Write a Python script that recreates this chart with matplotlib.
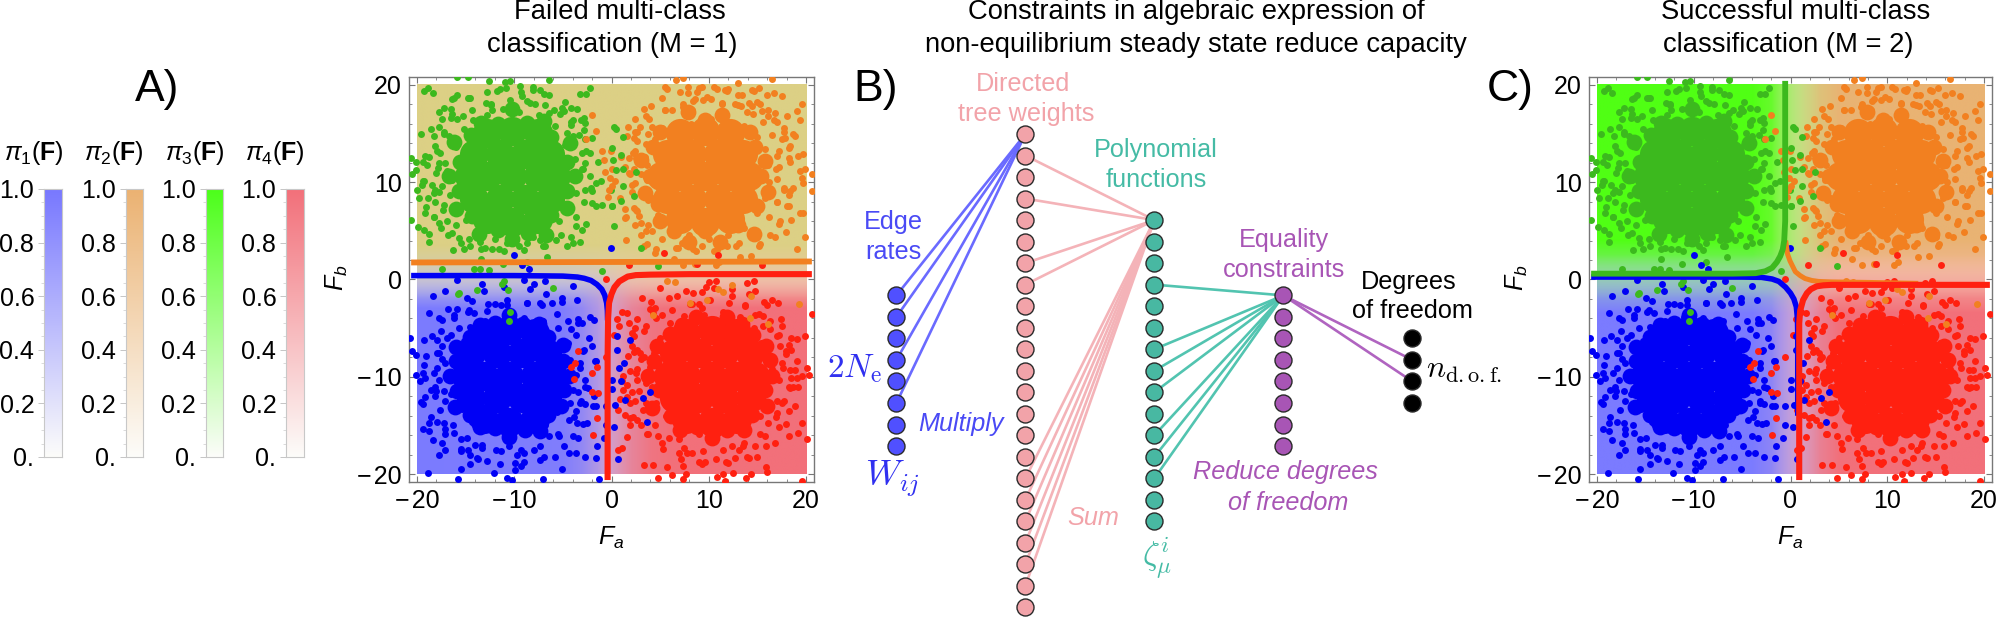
import numpy as np
import matplotlib
matplotlib.use("Agg")
import matplotlib.pyplot as plt
from matplotlib.ticker import MultipleLocator, FixedLocator

plt.rcParams['font.family'] = ['Liberation Sans', 'DejaVu Sans']
plt.rcParams['mathtext.fontset'] = 'custom'
plt.rcParams['mathtext.rm'] = 'Liberation Sans'
plt.rcParams['mathtext.it'] = 'Liberation Sans:italic'
plt.rcParams['mathtext.bf'] = 'Liberation Sans:bold'

# ---- scatter readings (Fa, Fb) ----
green_points = [(-12.6,20.4),(-14.8,20.8),(-15.9,20.8),(-10.9,20.3),(-10.4,20.4),(-6.4,20.5),(-19.3,19.4),(-18.9,19.7),(-18.4,19.2),(-16.2,18.6),(-15.9,19.0),(-16.4,18.5),(-14.8,18.6),(-14.5,18.6),(-11.5,19.6),(-11.8,19.4),(-9.4,19.9),(-9.3,19.3),(-7.4,19.5),(-6.9,19.1),(-8.1,19.8),(-2.2,19.7),(-3.2,19.1),(-2.6,19.1),(-12.9,18.1),(-12.4,17.9),(-12.3,17.4),(-9.2,18.8),(-8.7,18.3),(-7.9,18.0),(-17.2,17.6),(-17.7,17.2),(-17.4,16.5),(-16.4,17.0),(-16.5,16.6),(-15.3,16.8),(-5.9,17.4),(-6.4,17.1),(-5.1,17.6),(-4.9,17.3),(-4.2,17.6),(-3.5,17.5),(-2.8,16.6),(-2.7,16.1),(-4.0,16.4),(-4.2,15.9),(-2.8,15.4),(-18.6,15.5),(-17.7,15.7),(-19.6,14.9),(-17.2,14.9),(-16.7,14.7),(-16.2,14.4),(-4.6,15.0),(-4.0,14.7),(-2.7,14.4),(-18.1,13.7),(-17.9,13.2),(-19.2,12.7),(-20.1,12.1),(-19.4,12.1),(-19.0,11.8),(-20.6,12.5),(-17.7,12.0),(-17.8,11.5),(-17.1,12.0),(-20.1,11.2),(-20.5,10.8),(-16.9,11.1),(-19.3,10.1),(-19.5,9.7),(-20.0,9.2),(-18.1,9.2),(-18.5,9.7),(-17.4,9.6),(-18.3,8.9),(-18.1,8.0),(-19.8,8.4),(-19.1,7.4),(-19.2,6.8),(-18.3,6.4),(-17.2,7.7),(-17.7,5.8),(-16.9,6.0),(-20.6,6.1),(-19.9,5.4),(-19.3,5.1),(-18.8,4.7),(-18.8,3.9),(-17.5,5.3),(-16.4,4.8),(-15.7,4.3),(-15.5,3.8),(-16.3,3.0),(-14.5,3.4),(-13.5,3.9),(-13.4,3.1),(-12.3,3.1),(-11.6,3.1),(-10.7,3.8),(-9.5,3.4),(-8.7,3.8),(-7.3,4.1),(-6.8,3.4),(-5.7,4.1),(-4.2,4.4),(-4.0,3.8),(-3.2,3.9),(-3.0,5.1),(-3.7,5.5),(-2.0,7.9),(-1.0,7.7),(0.1,7.5),(-2.2,10.6),(-1.6,9.9),(-1.1,10.1),(-2.0,9.1),(-2.7,9.2),(-3.0,11.3),(-2.7,12.0),(-2.2,13.0),(-3.0,13.0),(-0.1,9.2),(-14.1,1.1),(-13.5,1.1),(-17.4,1.1),(-12.6,1.0),(-1.0,0.9),(-15.2,15.5),(-14.2,16.4),(-12.8,16.9),(-11.2,17.5),(-9.5,17.2),(-7.5,16.9),(-5.8,15.8),(-4.8,13.8),(-3.8,12.4),(-4.0,10.4),(-3.7,8.9),(-4.5,7.4),(-5.4,6.0),(-6.6,4.9),(-8.1,4.4),(-10.0,4.3),(-12.0,4.2),(-13.5,5.2),(-15.0,6.1),(-16.2,7.4),(-16.6,8.7),(-16.4,10.2),(-16.0,12.2),(-16.0,13.6),
(-2.9,11.4),(-2.1,9.4),(-2.6,13.2),(-1.4,12.1),(-3.3,14.8),(-2.0,14.5),(-4.2,16.2),(-3.1,16.4),(-5.3,17.0),(-4.8,18.2),(-6.8,17.9),(-6.4,19.0),(-8.4,18.1),(-8.1,19.5),(-10.4,18.4),(-10.8,19.7),(-12.4,18.0),(-12.8,19.3),(-14.3,17.4),(-14.6,18.6),(-15.9,16.5),(-16.5,17.5),(-17.2,15.2),(-18.2,14.7),(-17.6,13.0),(-18.8,12.6),(-18.0,10.9),(-19.4,10.1),(-17.7,9.0),(-18.9,8.4),(-17.3,7.1),(-18.3,6.4),(-16.0,5.6),(-16.8,4.6),(-14.6,4.2),(-15.2,3.1),(-13.0,3.2),(-13.4,2.1),(-11.1,2.9),(-11.2,1.6),(-9.0,3.0),(-8.7,1.8),(-7.0,3.4),(-6.6,2.3),(-5.2,4.6),(-4.6,3.4),(-3.6,6.4),(-2.6,5.7),(-2.8,8.0),(-1.6,7.5)]
orange_points = [(6.6,20.5),(7.4,20.7),(5.5,19.8),(5.7,19.6),(7.9,19.8),(7.9,19.2),(9.3,19.8),(8.8,19.3),(10.5,19.8),(10.8,19.6),(11.9,19.4),(12.0,19.6),(13.0,20.2),(13.0,19.0),(14.4,19.5),(14.6,19.4),(15.2,19.7),(16.0,19.0),(16.7,19.2),(17.5,18.8),(9.8,18.7),(8.6,18.5),(10.2,18.5),(8.4,18.3),(4.1,17.8),(2.4,16.5),(3.5,16.8),(5.5,17.4),(6.2,17.4),(7.3,17.7),(8.3,17.4),(11.4,18.0),(12.7,18.0),(13.3,17.8),(14.1,18.1),(14.4,17.8),(15.3,18.0),(19.6,18.0),(15.5,17.3),(16.1,17.4),(16.8,17.1),(13.9,17.2),(19.1,17.3),(19.4,16.4),(18.0,16.8),(16.1,16.8),(17.0,16.2),(17.7,15.6),(17.7,15.2),(1.7,15.7),(2.4,15.2),(2.9,15.7),(4.2,15.7),(5.2,15.6),(2.3,14.5),(2.6,14.2),(3.8,14.9),(3.5,13.9),(4.5,14.4),(17.5,14.4),(18.7,14.9),(18.9,14.7),(18.4,13.7),(18.2,13.5),(2.4,13.2),(1.8,12.5),(2.5,12.5),(3.4,12.6),(19.7,12.9),(19.2,12.7),(18.2,12.5),(17.0,12.7),(1.4,11.6),(2.3,11.3),(1.9,10.8),(3.0,10.8),(17.2,11.6),(19.4,11.1),(19.9,11.3),(19.6,10.4),(19.7,9.9),(20.6,10.8),(20.6,9.1),(17.0,10.3),(17.7,9.2),(18.4,9.1),(18.7,9.4),(18.2,8.7),(3.7,9.1),(3.8,8.2),(2.4,9.9),(2.1,9.7),(2.3,7.3),(2.6,7.0),(2.8,6.5),(1.4,7.2),(1.4,6.3),(2.4,5.6),(3.0,5.8),(3.5,5.0),(4.2,5.0),(1.5,4.1),(3.6,3.6),(3.3,3.4),(4.5,2.7),(7.2,3.8),(8.0,3.4),(8.4,3.1),(9.3,3.4),(10.5,2.9),(11.9,3.4),(13.1,3.8),(15.0,4.4),(15.3,3.6),(16.3,4.6),(16.8,4.4),(17.3,6.0),(18.5,6.1),(19.7,6.8),(19.4,6.8),(17.9,4.9),(18.0,7.5),(17.0,8.0),(19.1,3.1),(19.9,4.4),(16.5,20.6),(6.6,3.2),(7.4,1.5),(10.7,1.5),(14.3,2.4),(5,15),(6.5,15.6),(8.2,16),(10.2,16.5),(12,16.2),(13.6,15.8),(15,14.6),(15.8,13.4),(16.1,11.8),(16.2,10),(15.8,8.4),(15,6.8),(13.6,5.3),(12,4.6),(10,4.2),(8,4.6),(6.2,5.4),(4.8,6.6),(4.2,8.4),(3.6,10.2),(3.7,11.8),(4.2,13.4),
(16.9,11.4),(17.7,9.4),(17.2,13.2),(18.4,12.1),(16.5,14.8),(17.8,14.5),(15.6,16.2),(16.7,16.4),(14.5,17.0),(15.0,18.2),(13.0,17.9),(13.4,19.0),(11.4,18.1),(11.7,19.5),(9.4,18.4),(9.0,19.7),(7.4,18.0),(7.0,19.3),(5.5,17.4),(5.2,18.6),(3.9,16.5),(3.3,17.5),(2.6,15.2),(1.6,14.7),(2.2,13.0),(1.0,12.6),(1.8,10.9),(0.4,10.1),(2.1,9.0),(0.9,8.4),(2.5,7.1),(1.5,6.4),(3.8,5.6),(3.0,4.6),(5.2,4.2),(4.6,3.1),(6.8,3.2),(6.4,2.1),(8.7,2.9),(8.6,1.6),(10.8,3.0),(11.1,1.8),(12.8,3.4),(13.2,2.3),(14.6,4.6),(15.2,3.4),(16.2,6.4),(17.2,5.7),(17.0,8.0),(18.2,7.5)]
blue_points = [(-18.4,-1.7),(-15.9,-0.1),(-13.3,-0.5),(-9.0,-0.1),(-8.0,-0.5),(-6.8,-0.2),(-4.0,-0.7),(-5.1,-1.9),(-3.5,-2.1),(-17.1,-1.2),(-14.3,-2.2),(-12.0,-2.5),(-11.4,-2.6),(-10.7,-2.6),(-8.7,-2.4),(-7.3,-2.4),(-6.1,-2.4),(-18.8,-3.4),(-17.7,-4.0),(-17.4,-4.2),(-15.9,-3.0),(-16.2,-3.6),(-14.8,-3.3),(-14.1,-3.4),(-12.8,-3.2),(-2.2,-3.9),(-1.8,-4.2),(-3.4,-4.5),(-3.0,-4.5),(-4.2,-5.1),(-15.7,-5.0),(-16.5,-5.7),(-16.9,-6.0),(-17.9,-6.2),(-19.3,-6.2),(-20.7,-6.0),(-20.5,-7.3),(-20.1,-7.8),(-17.4,-6.8),(-17.7,-7.5),(-17.4,-8.2),(-17.1,-8.6),(-19.3,-8.8),(-19.4,-9.6),(-20.1,-9.8),(-19.2,-10.1),(-17.9,-9.1),(-17.7,-10.3),(-18.1,-11.0),(-18.6,-11.4),(-17.2,-11.5),(-16.5,-11.8),(-18.1,-12.0),(-17.1,-12.5),(-19.6,-12.6),(-19.4,-12.8),(-2.0,-6.8),(-1.6,-8.4),(-2.8,-7.2),(-3.2,-8.6),(-3.7,-9.8),(-2.7,-10.3),(-3.4,-11.6),(-2.7,-11.0),(-3.2,-12.7),(-4.0,-11.3),(-4.9,-11.8),(-1.6,-13.0),(-0.6,-13.0),(-1.8,-12.0),(-2.7,-12.8),(-3.7,-13.5),(-4.4,-14.4),(-3.5,-14.7),(-18.8,-14.7),(-17.9,-14.6),(-17.2,-14.7),(-19.4,-15.4),(-18.8,-15.6),(-18.4,-16.5),(-17.1,-15.4),(-16.2,-15.8),(-15.5,-16.4),(-17.4,-16.8),(-17.7,-18.0),(-17.1,-17.5),(-15.5,-17.6),(-14.8,-17.5),(-14.5,-18.0),(-13.8,-18.3),(-15.5,-19.5),(-14.5,-19.0),(-12.8,-18.6),(-14.0,-17.0),(-13.3,-17.0),(-11.9,-17.5),(-10.5,-17.1),(-9.7,-18.0),(-9.0,-17.8),(-8.0,-17.5),(-9.9,-18.8),(-9.3,-19.2),(-9.9,-19.6),(-7.3,-18.5),(-5.8,-18.2),(-6.4,-16.1),(-5.4,-16.1),(-4.0,-16.1),(-3.4,-16.3),(-4.4,-17.8),(-3.7,-17.8),(-2.7,-18.2),(-1.6,-18.3),(-1.5,-17.1),(-2.5,-14.7),(-18.9,-19.9),(-15.8,-20.5),(-12.1,-19.9),(-10.7,-20.4),(-10.2,-20.6),(-7.0,-20.5),(-5.1,-19.5),(-1.3,-20.5),(-0.8,-16.3),(-0.6,-14.9),(-15.2,-6.3),(-14.5,-4.9),(-13,-4.3),(-11,-3.9),(-9,-4),(-7,-4.3),(-5.5,-5),(-4.5,-6.5),(-4.3,-8.3),(-4.8,-10),(-4.3,-12.7),(-5.6,-13.6),(-6.8,-14.9),(-8.5,-15.4),(-10.5,-15.9),(-12.5,-15.3),(-14.3,-14.6),(-15.4,-13.3),(-15.9,-11),(-16,-9),(-15.7,-7.6),
(-3.2,-9.1),(-2.4,-11.1),(-2.9,-7.3),(-1.7,-8.4),(-3.6,-5.7),(-2.3,-6.0),(-4.5,-4.3),(-3.4,-4.1),(-5.6,-3.5),(-5.1,-2.3),(-7.1,-2.6),(-6.7,-1.5),(-8.7,-2.4),(-8.4,-1.0),(-10.7,-2.1),(-11.1,-0.8),(-12.7,-2.5),(-13.1,-1.2),(-14.6,-3.1),(-14.9,-1.9),(-16.2,-4.0),(-16.8,-3.0),(-17.5,-5.3),(-18.5,-5.8),(-17.9,-7.5),(-19.1,-7.9),(-18.3,-9.6),(-19.7,-10.4),(-18.0,-11.5),(-19.2,-12.1),(-17.6,-13.4),(-18.6,-14.1),(-16.3,-14.9),(-17.1,-15.9),(-14.9,-16.3),(-15.5,-17.4),(-13.3,-17.3),(-13.7,-18.4),(-11.4,-17.6),(-11.5,-18.9),(-9.3,-17.5),(-9.0,-18.7),(-7.3,-17.1),(-6.9,-18.2),(-5.5,-15.9),(-4.9,-17.1),(-3.9,-14.1),(-2.9,-14.8),(-3.1,-12.5),(-1.9,-13.0)]
red_points = [(5.0,-0.9),(6.7,-1.7),(8.4,-1.4),(9.3,-1.3),(10.0,-0.3),(10.7,-0.2),(10.5,-0.9),(12.4,-1.7),(14.8,-1.2),(14.6,-0.2),(13.9,-0.4),(3.1,-1.9),(4.1,-2.3),(4.5,-2.9),(1.1,-3.3),(1.6,-3.4),(8.3,-2.5),(9.0,-2.5),(9.3,-2.9),(13.7,-2.7),(16.0,-2.6),(16.5,-2.1),(17.1,-2.4),(20.6,-3.5),(0.6,-4.1),(2.6,-4.1),(0.8,-4.8),(1.8,-4.5),(2.4,-5.0),(5.2,-3.6),(4.3,-3.4),(14.8,-3.6),(15.6,-3.8),(15.6,-4.8),(16.3,-5.1),(0.3,-5.7),(2.1,-5.5),(3.5,-4.8),(17.0,-5.8),(17.5,-4.8),(19.1,-6.1),(19.9,-5.8),(18.2,-6.7),(2.1,-6.8),(2.6,-7.2),(3.0,-8.2),(3.3,-8.0),(2.3,-7.4),(17.3,-6.8),(17.9,-7.7),(18.5,-7.2),(17.5,-8.6),(18.4,-9.3),(18.9,-9.3),(20.1,-9.1),(16.5,-9.2),(17.2,-10.3),(19.6,-9.9),(20.3,-9.8),(18.5,-10.1),(19.1,-10.1),(18.2,-11.0),(18.7,-11.0),(19.2,-11.0),(2.6,-9.2),(1.9,-9.4),(1.2,-9.9),(1.6,-10.8),(1.2,-11.3),(2.6,-10.3),(3.5,-10.6),(2.1,-11.6),(0.9,-12.3),(1.9,-12.7),(2.4,-12.5),(3.5,-12.7),(0.7,-13.4),(1.4,-13.9),(1.9,-14.2),(2.6,-14.4),(1.9,-14.9),(3.0,-14.9),(17.0,-12.5),(17.5,-12.7),(17.0,-13.7),(16.0,-13.0),(15.3,-14.0),(16.1,-14.7),(17.2,-15.1),(18.2,-13.5),(19.6,-14.7),(19.2,-15.8),(18.2,-16.1),(20.1,-16.4),(1.6,-16.2),(0.7,-17.5),(1.1,-17.3),(3.3,-19.1),(4.3,-19.1),(4.8,-20.4),(5.7,-19.3),(6.2,-20.1),(7.7,-20.0),(7.4,-20.5),(4.8,-16.1),(5.2,-16.8),(3.8,-15.9),(6.9,-16.4),(7.8,-17.8),(8.3,-17.8),(6.9,-17.8),(7.4,-19.2),(9.0,-18.7),(9.6,-18.7),(10.7,-18.4),(12.0,-18.8),(12.7,-18.3),(14.1,-18.3),(15.0,-18.2),(14.8,-17.1),(15.8,-16.1),(16.8,-16.8),(12.4,-17.1),(13.1,-17.5),(13.6,-16.8),(12.5,-19.9),(11.7,-20.7),(10.8,-20.3),(14.3,-20.0),(15.9,-19.3),(16.0,-19.8),(19.6,-20.7),(13.8,-20.4),(11.5,-20.0),(5,-6),(6,-4.5),(7.5,-3.8),(9.5,-3.6),(11.5,-3.3),(13.2,-3.9),(14.6,-5),(15.4,-6.5),(15.8,-8),(16,-10.5),(15.6,-12),(14.5,-13.7),(13,-15),(11,-15.8),(9,-15.9),(7,-15),(5.6,-14),(4.6,-12.7),(4.2,-11),(4,-9),(4.4,-7.5),
(17.6,-9.1),(18.4,-11.1),(17.9,-7.3),(19.1,-8.4),(17.2,-5.7),(18.5,-6.0),(16.3,-4.3),(17.4,-4.1),(15.2,-3.5),(15.7,-2.3),(13.7,-2.6),(14.1,-1.5),(12.1,-2.4),(12.4,-1.0),(10.1,-2.1),(9.7,-0.8),(8.1,-2.5),(7.7,-1.2),(6.2,-3.1),(5.9,-1.9),(4.6,-4.0),(4.0,-3.0),(3.3,-5.3),(2.3,-5.8),(2.9,-7.5),(1.7,-7.9),(2.5,-9.6),(1.1,-10.4),(2.8,-11.5),(1.6,-12.1),(3.2,-13.4),(2.2,-14.1),(4.5,-14.9),(3.7,-15.9),(5.9,-16.3),(5.3,-17.4),(7.5,-17.3),(7.1,-18.4),(9.4,-17.6),(9.3,-18.9),(11.5,-17.5),(11.8,-18.7),(13.5,-17.1),(13.9,-18.2),(15.3,-15.9),(15.9,-17.1),(16.9,-14.1),(17.9,-14.8),(17.7,-12.5),(18.9,-13.0)]

# dense cloud centres, drawn with a wider dot
green_core = [(-10.2,10.6),(-7.6,10.6),(-12.8,10.6),(-8.9,12.9),(-11.5,12.9),(-8.9,8.3),(-11.5,8.3),(-5.7,10.6),(-14.7,10.6),(-6.3,12.9),(-14.1,12.9),(-7.6,15.0),(-10.2,15.3),(-12.8,15.0),(-6.3,8.3),(-14.1,8.3),(-7.6,6.2),(-10.2,5.9),(-12.8,6.2)]
orange_core = [(9.6,10.6),(12.2,10.6),(7.0,10.6),(10.9,12.9),(8.3,12.9),(10.9,8.3),(8.3,8.3),(14.1,10.6),(5.1,10.6),(13.5,12.9),(5.7,12.9),(12.2,15.0),(9.6,15.3),(7.0,15.0),(13.5,8.3),(5.7,8.3),(12.2,6.2),(9.6,5.9),(7.0,6.2)]
blue_core = [(-10.5,-9.9),(-7.9,-9.9),(-13.1,-9.9),(-9.2,-7.6),(-11.8,-7.6),(-9.2,-12.2),(-11.8,-12.2),(-6.0,-9.9),(-15.0,-9.9),(-6.6,-7.6),(-14.4,-7.6),(-7.9,-5.5),(-10.5,-5.2),(-13.1,-5.5),(-6.6,-12.2),(-14.4,-12.2),(-7.9,-14.3),(-10.5,-14.6),(-13.1,-14.3)]
red_core = [(10.3,-9.9),(12.9,-9.9),(7.7,-9.9),(11.6,-7.6),(9.0,-7.6),(11.6,-12.2),(9.0,-12.2),(14.8,-9.9),(5.8,-9.9),(14.2,-7.6),(6.4,-7.6),(12.9,-5.5),(10.3,-5.2),(7.7,-5.5),(14.2,-12.2),(6.4,-12.2),(12.9,-14.3),(10.3,-14.6),(7.7,-14.3)]

# rim of each dense cloud, a medium dot
green_rim = [(-3.8,10.6),(-4.6,12.1),(-4.3,14.0),(-6.2,14.6),(-6.9,16.3),(-8.7,16.1),(-10.2,17.5),(-11.7,16.0),(-13.4,16.1),(-14.4,14.8),(-16.2,14.1),(-15.6,12.1),(-16.7,10.6),(-15.7,9.1),(-16.0,7.2),(-14.3,6.5),(-13.6,4.7),(-11.7,5.1),(-10.2,4.2),(-8.6,4.8),(-6.7,4.6),(-6.2,6.6),(-4.6,7.3),(-4.6,9.1)]
orange_rim = [(15.4,10.6),(15.8,12.2),(14.8,13.6),(14.2,15.1),(12.4,15.6),(11.4,16.9),(9.6,16.4),(7.9,17.2),(6.7,15.6),(5.0,15.1),(4.3,13.6),(3.0,12.3),(4.0,10.6),(3.4,8.9),(4.8,7.8),(5.0,6.0),(6.4,5.0),(8.0,3.9),(9.6,5.0),(11.2,3.9),(13.0,5.6),(14.6,4.7),(15.0,7.5),(16.1,9.0)]
blue_rim = [(-4.4,-9.9),(-5.0,-8.4),(-5.0,-6.7),(-6.5,-5.9),(-7.5,-4.6),(-9.1,-4.6),(-10.5,-3.6),(-12.0,-4.5),(-13.5,-4.7),(-14.5,-5.9),(-16.0,-6.9),(-16.0,-8.4),(-16.6,-9.9),(-15.9,-11.5),(-16.1,-13.1),(-14.5,-13.9),(-13.5,-15.2),(-12.0,-15.3),(-10.5,-16.2),(-8.9,-15.5),(-7.4,-15.6),(-6.5,-13.9),(-5.2,-13.0),(-4.9,-11.4)]
red_rim = [(16.5,-9.9),(16.3,-8.3),(15.9,-6.8),(14.5,-5.7),(13.4,-4.6),(11.9,-3.9),(10.3,-4.8),(8.7,-3.9),(7.2,-4.7),(6.0,-5.6),(4.7,-6.8),(4.4,-8.4),(3.8,-9.9),(4.9,-11.4),(4.2,-13.2),(6.1,-14.0),(7.0,-15.5),(8.8,-15.1),(10.3,-16.3),(11.9,-15.5),(13.6,-15.5),(14.4,-13.9),(16.0,-13.0),(15.8,-11.4)]

# points lying in another class's cloud, drawn last
stray_green = [(0.3,15.7),(0.5,15.5),(1.2,14.6),(0.05,13.5),(1.0,12.8),(0.2,12.3),(0.5,11.2),(1.2,11.3),(2.5,11.0),(1.2,9.6),(2.3,8.6),(1.0,8.1),(0.05,7.6),(0.3,5.5),(3.0,3.2),(4.8,1.4),(-15.7,-1.4),(-15.8,-1.5),(-13.8,-1.1),(-11.3,-0.5),(-11.1,-0.2),(-10.6,-1.1),(-6.0,-0.9),(-10.4,-3.3),(-10.5,-4.3)]
stray_orange = [(-2.0,16.9),(-1.6,15.3),(-2.6,14.4),(-1.0,13.2),(-0.1,13.2),(-0.8,12.3),(0.07,11.4),(-0.7,11.0),(-0.2,10.4),(0.07,9.6),(-0.3,9.2),(-0.4,8.5),(5.7,-0.2),(6.5,-0.3),(11,-1),(11.5,-1.3),(12.4,-0.6),(14.3,-1.7),(9.8,-2.1),(19.3,-2.5),(4.3,-3.6),(16.1,-4.6),(14.2,-4),(8.1,-2.4)]
stray_blue = [(-10.0,2.5),(-0.1,3.2),(-9.2,1.5),(-8.5,1.1),(0.6,-5.8),(1.9,-6.2),(0.6,-7.2),(1.3,-8.6),(0.8,-9.1),(1,-10.4),(0.05,-10.3),(4,-11.6),(0.4,-12.9),(1.35,-12.4),(3.2,-12.2),(3.65,-14.6),(0.3,-15.1),(0.7,-18.4),(0.05,-11.2)]
stray_red = [(5.4,2.7),(11.0,2.5),(1.8,1.5),(8.8,1.6),(15.5,1.5),(-0.6,0),(-3.4,-7.3),(-3.8,-8.6),(-4.2,-9.0),(-3.9,-10.2),(-2.0,-9.6),(-1.5,-9.0),(-2.0,-11.6),(-1.4,-11.7),(-1.5,-14.2),(-1.9,-16),(-0.6,-8)]

# ---- decision boundary readings ----
a_orange_x = [-20.6, 0, 20.6]
a_orange_y = [1.75, 1.8, 1.85]
a_blue_x = [-20.6,-10,-5,-3.5,-2.8,-2.1,-1.5,-1.0,-0.7,-0.5,-0.42,-0.4]
a_blue_y = [0.4,0.4,0.35,0.25,0.12,-0.1,-0.5,-1.0,-1.6,-2.4,-3.2,-4.2]
a_red_x = [20.6,8,4,2.5,1.66,0.8,0.3,0,-0.25,-0.35,-0.4,-0.4]
a_red_y = [0.55,0.55,0.5,0.45,0.3,-0.2,-0.8,-1.5,-2.4,-4,-8,-20.6]

c_orange_x = [-0.5,-0.3,-0.05,0.5,1.0,1.5,2.2,2.9,4.25,8,13.2]
c_orange_y = [4.0,2.6,1.9,0.8,0.4,0.1,-0.1,-0.2,-0.25,-0.3,-0.4]
c_blue_x = [-20.6,-5,-3,-1.9,-1.2,-0.5,0,0.35,0.6,0.72,0.75,0.75]
c_blue_y = [0.25,0.25,0.22,0.05,-0.2,-0.8,-1.4,-2.0,-2.8,-4,-5.7,-14]
c_green_x = [-20.6,-6,-3.6,-2.6,-1.9,-1.4,-1.06,-0.8,-0.65,-0.55,-0.55,-0.55]
c_green_y = [0.6,0.6,0.65,0.85,1.2,1.8,2.4,3.1,4,6,8.5,20.4]
c_red_x = [20.6,8,4.25,3.4,2.7,2.1,1.7,1.3,1.0,0.9,0.9,0.9]
c_red_y = [-0.55,-0.55,-0.55,-0.6,-0.7,-1.0,-1.4,-2.1,-3.2,-4.5,-8,-20.6]

# ---- background blend profiles ----
a_prof_x = [-20,-5,-3,-1.5,-0.4,0.7,2,4,6,20]
a_prof_u = [0,0.02,0.1,0.25,0.5,0.72,0.87,0.97,1,1]
a_prof_y = [-20,-3,-2,-1,0,1,2,3.5,20]
a_prof_v = [0,0,0.1,0.3,0.55,0.75,0.9,1,1]
c_prof_x = [-20,-4,-2,-0.5,0.5,1.5,3,5,20]
c_prof_u = [0,0,0.07,0.3,0.5,0.7,0.9,1,1]
c_prof_y = [-20,-3.5,-2,-0.5,0.3,1,2.5,4,20]
c_prof_v = [0,0,0.1,0.35,0.5,0.65,0.9,1,1]

# ---- axes ticks ----
axis_ticks = [-20, -10, 0, 10, 20]
axis_tick_labels = ['\u2212\u200a20', '\u2212\u200a10', '0', '10', '20']

# ---- colour bars ----
bar_ticks = [0, 0.2, 0.4, 0.6, 0.8, 1.0]
bar_tick_labels = ['0.', '0.2', '0.4', '0.6', '0.8', '1.0']
bar_names = [r'$\pi_1(\mathbf{F})$', r'$\pi_2(\mathbf{F})$', r'$\pi_3(\mathbf{F})$', r'$\pi_4(\mathbf{F})$']

# ---- network ----
layer_sizes = [8, 23, 15, 8, 4]
layer_first_row = [7.5, 0, 4, 7.5, 9.5]
edges_w_to_tree = [0, 1, 3, 5]
edges_tree_to_poly = [1, 3, 6, 7, 16, 17, 18, 19, 20, 21]
edges_poly_to_eq = [3, 6, 7, 8, 10, 11, 12]
edges_eq_to_dof = [1, 2]

BLUE, ORANGE, GREEN, RED = '#0000F5', '#F28020', '#3CB91E', '#FF2010'
W, H = 2000, 618
fig = plt.figure(figsize=(20, 6.18), dpi=100)


def px_axes(l, t, r, b, **kw):
    return fig.add_axes([l / W, 1 - b / H, (r - l) / W, (b - t) / H], **kw)


def txt(x, y, s, size=18.2, color='k', ha='center', va='center', **kw):
    return fig.text(x / W, 1 - y / H, s, fontsize=size, color=color, ha=ha, va=va, **kw)


def rgb(c):
    return np.array(matplotlib.colors.to_rgb(c))


def background(ax, px, pu, py, pv, tl, tr, bl, br, top_pale):
    xs = np.linspace(-20, 20, 500)
    ys = np.linspace(-20, 20, 500)
    u = np.interp(xs, px, pu)[None, :, None]
    v = np.interp(ys, py, pv)[:, None, None]
    img = (1 - v) * ((1 - u) * bl + u * br) + v * ((1 - u) * tl + u * tr)
    h = 4 * u * (1 - u) * (1 - v * (1 - top_pale))
    g = 4 * v * (1 - v)
    whit = 0.3 * (1 - (1 - h) * (1 - g))
    img = img * (1 - whit) + whit
    ax.imshow(img, extent=[-20, 20, -20, 20], origin='lower', aspect='auto', zorder=1,
              interpolation='bilinear')


def dots(ax, pts, color, s, z=2):
    a = np.array(pts, float)
    ax.scatter(a[:, 0], a[:, 1], s=s, color=color, lw=0, zorder=z)


def panel(l, r, prof, corners, top_pale, curves):
    ax = px_axes(l, 77, r, 482)
    ax.set_xlim(-20.82, 20.82)
    ax.set_ylim(-20.8, 20.8)
    background(ax, *prof, *corners, top_pale)
    for core, rim, p, c in [(green_core, green_rim, green_points, GREEN),
                            (orange_core, orange_rim, orange_points, ORANGE),
                            (blue_core, blue_rim, blue_points, BLUE),
                            (red_core, red_rim, red_points, RED)]:
        dots(ax, core, c, 440, 2)
        dots(ax, rim, c, 130, 2)
        dots(ax, p, c, 25, 3)
    for p, c in [(stray_orange, ORANGE), (stray_blue, BLUE), (stray_red, RED), (stray_green, GREEN)]:
        dots(ax, p, c, 25, 4)
    for x, y, c, lw in curves:
        ax.plot(x, y, color=c, lw=lw, solid_capstyle='butt', zorder=5)
    ax.set_xticks(axis_ticks, axis_tick_labels)
    ax.set_yticks(axis_ticks, axis_tick_labels)
    ax.xaxis.set_minor_locator(MultipleLocator(2))
    ax.yaxis.set_minor_locator(MultipleLocator(2))
    ax.tick_params(which='major', direction='in', length=4, width=0.8, color='#777777',
                   top=True, right=True, labelsize=18, pad=5)
    ax.tick_params(which='minor', direction='in', length=2.2, width=0.6, color='#777777',
                   top=True, right=True)
    for sp in ax.spines.values():
        sp.set_color('#777777')
        sp.set_linewidth(1.0)
    return ax


cA = [rgb('#DCD085'), rgb('#DCD085'), rgb('#7B7BFF'), rgb('#F2707A')]
cC = [rgb('#50FF14'), rgb('#E9B373'), rgb('#7B7BFF'), rgb('#F2707A')]
panel(409, 814, (a_prof_x, a_prof_u, a_prof_y, a_prof_v), cA, 0.0,
      [(a_orange_x, a_orange_y, ORANGE, 4.2), (a_blue_x, a_blue_y, BLUE, 4.0), (a_red_x, a_red_y, RED, 4.4)])
panel(1589, 1992, (c_prof_x, c_prof_u, c_prof_y, c_prof_v), cC, 1.0,
      [(c_orange_x, c_orange_y, ORANGE, 3.6), (c_blue_x, c_blue_y, BLUE, 4.0),
       (c_green_x, c_green_y, GREEN, 4.2), (c_red_x, c_red_y, RED, 4.4)])

# colour bars
bar_lefts = [44, 125.5, 205.5, 286]
bar_cols = ['#7878FF', '#EBB272', '#4CFF1A', '#F2707A']
bar_label_x = [34, 114, 194.5, 275]
for l, c, name, lx in zip(bar_lefts, bar_cols, bar_names, bar_label_x):
    ax = px_axes(l, 189, l + 17.5, 457)
    base = rgb(c)
    grad = np.linspace(0, 1, 256)[:, None, None]
    ax.imshow(grad * base + (1 - grad) * np.array([0.99, 0.99, 0.98]), extent=[0, 1, 0, 1],
              origin='lower', aspect='auto')
    ax.set_xticks([])
    ax.yaxis.set_major_locator(FixedLocator(bar_ticks))
    ax.set_yticklabels(bar_tick_labels)
    ax.yaxis.set_minor_locator(MultipleLocator(0.05))
    ax.tick_params(which='major', axis='y', direction='out', length=4, width=0.6, color='#BBBBBB',
                   labelsize=18, pad=3)
    ax.tick_params(which='minor', axis='y', direction='out', length=2, width=0.5, color='#CCCCCC')
    for sp in ax.spines.values():
        sp.set_color('#C8C8C8')
        sp.set_linewidth(0.8)
    txt(lx, 153, name, size=18)

# network
net = fig.add_axes([0, 0, 1, 1], facecolor='none')
net.set_xlim(-896.4 / 129, (W - 896.4) / 129)
net.set_ylim((H - 134) / 21.52, -134 / 21.52)
net.axis('off')


def node_y(layer, i):
    return layer_first_row[layer] + i


def fan(src_layer, src_ids, dst_layer, dst_id, color):
    for i in src_ids:
        net.plot([src_layer, dst_layer], [node_y(src_layer, i), node_y(dst_layer, dst_id)],
                 color=color, lw=1.9, zorder=1, solid_capstyle='butt')


fan(0, edges_w_to_tree, 1, 0, '#6A6AFF')
fan(1, edges_tree_to_poly, 2, 0, '#F4B3B8')
fan(2, edges_poly_to_eq, 3, 0, '#52C4B0')
fan(4, edges_eq_to_dof, 3, 0, '#B064C0')
node_cols = ['#5050FF', '#F2A3A9', '#48B8A2', '#A855B5', '#000000']
for k, (n, c) in enumerate(zip(layer_sizes, node_cols)):
    net.scatter(np.full(n, k), layer_first_row[k] + np.arange(n), s=150, color=c,
                edgecolor='#2A2A2A', lw=1.0, zorder=3)

# text
c_b, c_p, c_t, c_v = '#4A4AF5', '#F2A3A9', '#45BBA5', '#A855B5'
txt(157, 90, 'A)', size=32)
txt(876, 90, 'B)', size=32)
txt(1510, 90, 'C)', size=32)
txt(620, 12, 'Failed multi-class', size=19.7)
txt(612, 44.5, 'classification (M = 1)', size=19.7)
txt(1196, 12, 'Constraints in algebraic expression of', size=19.7)
txt(1196, 44.5, 'non-equilibrium steady state reduce capacity', size=19.7)
txt(1796, 12, 'Successful multi-class', size=19.7)
txt(1788, 44.5, 'classification (M = 2)', size=19.7)
txt(611, 538, r'$F_a$', size=18)
txt(337, 278, r'$F_b$', size=18, rotation=90)
txt(1790, 538, r'$F_a$', size=18)
txt(1517, 278, r'$F_b$', size=18, rotation=90)

txt(893, 221.5, 'Edge', color=c_b)
txt(893, 251.5, 'rates', color=c_b)
txt(1023, 83.6, 'Directed', color=c_p)
txt(1026, 113.5, 'tree weights', color=c_p)
txt(1156, 150, 'Polynomial', color=c_t)
txt(1156, 180, 'functions', color=c_t)
txt(1284, 240, 'Equality', color=c_v)
txt(1284, 270, 'constraints', color=c_v)
txt(1409, 282, 'Degrees')
txt(1412.5, 311, 'of freedom')
txt(961, 424.5, 'Multiply', color=c_b, style='italic')
txt(1093, 518, 'Sum', color=c_p, style='italic')
txt(1285, 472, 'Reduce degrees', color=c_v, style='italic')
txt(1288, 502.5, 'of freedom', color=c_v, style='italic')
txt(854.5, 368.5, r'$2N_{\mathrm{e}}$', size=24, color='#3030F0', math_fontfamily='cm')
txt(892, 479, r'$W_{ij}$', size=26, color='#3030F0', math_fontfamily='cm')
txt(1157, 558, r'$\zeta_{\mu}^{i}$', size=24, color=c_t, math_fontfamily='cm')
txt(1426, 370, r'$n_{\mathrm{d{.}o{.}f{.}}}$', size=23, ha='left', math_fontfamily='cm')

fig.savefig('out.png', dpi=100)
